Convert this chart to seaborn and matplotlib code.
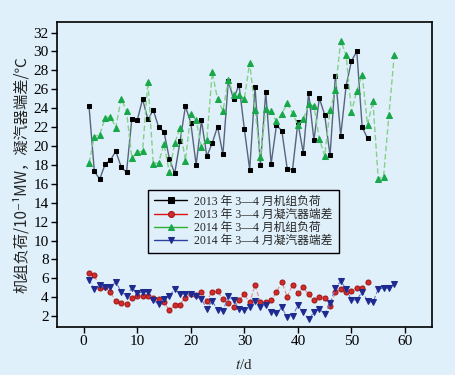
import numpy as np
import pandas as pd
import matplotlib
matplotlib.use("Agg")
import matplotlib.pyplot as plt
import seaborn as sns

# ---- data ----
load2013 = [24.2, 17.3, 16.5, 18.05, 18.5, 19.45, 17.8, 17.2, 22.9, 22.7,
            24.95, 22.8, 23.8, 22.0, 21.5, 18.65, 17.1, 20.5, 24.2, 22.45,
            18.0, 22.7, 18.9, 20.3, 22.05, 19.1, 26.85, 24.95, 26.5, 21.8,
            17.5, 26.2, 18.0, 25.7, 18.1, 22.2, 21.6, 17.6, 17.5, 22.5,
            19.25, 25.6, 20.6, 25.05, 23.3, 19.0, 27.4, 21.1, 26.35, 29.0,
            30.0, 22.0, 20.8]
diff2013 = [6.6, 6.33, 4.96, 5.03, 4.53, 3.55, 3.37, 3.27, 3.9, 4.15,
            4.18, 4.08, 3.9, 3.8, 3.45, 2.63, 3.16, 3.23, 3.97, 4.3,
            4.2, 4.57, 3.62, 4.6, 4.67, 3.76, 3.34, 2.92, 3.69, 4.29,
            3.45, 5.27, 3.45, 3.48, 3.69, 4.53, 5.66, 4.04, 5.3, 4.4,
            5.03, 4.29, 3.66, 4.04, 3.97, 3.02, 4.53, 4.82, 4.53, 4.67,
            4.99, 4.96, 5.66]
load2014 = [18.2, 21.0, 21.2, 22.95, 23.1, 21.95, 25.0, 23.7, 18.7, 19.35,
            19.45, 26.8, 18.1, 18.25, 20.2, 17.2, 20.3, 21.9, 18.45, 23.4,
            22.7, 19.9, 20.65, 27.8, 24.95, 23.7, 27.0, 25.4, 25.4, 25.0,
            28.8, 23.8, 18.8, 23.9, 23.65, 22.6, 23.4, 24.5, 23.5, 22.2,
            22.8, 24.4, 24.2, 20.75, 18.95, 23.8, 25.9, 31.15, 29.6, 23.6,
            25.85, 27.55, 22.25, 24.75, 16.55, 16.75, 23.3, 29.65]
diff2014 = [5.87, 4.82, 5.24, 5.03, 5.1, 5.62, 4.57, 4.15, 4.99, 4.46,
            4.53, 4.57, 3.69, 3.27, 3.83, 4.11, 4.88, 4.29, 4.36, 4.29,
            4.08, 3.8, 2.77, 3.62, 2.63, 2.53, 4.11, 3.69, 2.77, 2.63,
            2.92, 3.62, 2.92, 3.13, 2.39, 2.29, 2.92, 1.86, 1.97, 3.16,
            2.39, 1.68, 2.39, 2.77, 2.21, 3.34, 4.99, 5.7, 4.88, 3.72,
            3.72, 4.6, 3.58, 3.45, 4.88, 4.96, 4.96, 5.45]
labels = ["2013 年 3—4 月机组负荷", "2013 年 3—4 月凝汽器端差",
          "2014 年 3—4 月机组负荷", "2014 年 3—4 月凝汽器端差"]
xticks = [0, 10, 20, 30, 40, 50, 60]
yticks = list(range(2, 33, 2))

days2013 = np.arange(1, len(load2013) + 1)
days2014 = np.arange(1, len(load2014) + 1)

bg = "#dff0fa"
sns.set_theme(style="ticks")
plt.rcParams["font.family"] = ["Liberation Serif", "Noto Sans CJK SC", "DejaVu Sans"]
plt.rcParams["mathtext.fontset"] = "stix"
plt.rcParams["axes.facecolor"] = bg
plt.rcParams["figure.facecolor"] = bg

fig = plt.figure(figsize=(4.55, 3.75), dpi=100)
ax = fig.add_axes([0.125, 0.128, 0.824, 0.813])

sns.lineplot(x=days2013, y=load2013, ax=ax, color="#56647e", lw=1.0,
             marker="s", markersize=3.3, markerfacecolor="black",
             markeredgecolor="black", label=labels[0])
sns.lineplot(x=days2013, y=diff2013, ax=ax, color="#e48a8a", lw=0.8,
             linestyle=(0, (4, 2)), marker="o", markersize=3.6,
             markerfacecolor="#d42a2a", markeredgecolor="#a01818",
             label=labels[1])
sns.lineplot(x=days2014, y=load2014, ax=ax, color="#86d08c", lw=1.0,
             linestyle=(0, (4, 2)), marker="^", markersize=3.8,
             markerfacecolor="#18a84a", markeredgecolor="#18a84a",
             label=labels[2])
sns.lineplot(x=days2014, y=diff2014, ax=ax, color="#6878c8", lw=0.8,
             linestyle=(0, (4, 2)), marker="v", markersize=3.8,
             markerfacecolor="#1e2a90", markeredgecolor="#1e2a90",
             label=labels[3])

ax.set_xlim(-5, 65)
ax.set_ylim(0.85, 33.1)
ax.set_xticks(xticks)
ax.set_yticks(yticks)
ax.tick_params(axis="both", direction="out", length=4, width=1,
               labelsize=11, colors="black", pad=2)
ax.tick_params(top=False, right=False)
for s in ax.spines.values():
    s.set_visible(True)
    s.set_color("black")
    s.set_linewidth(1.2)
ax.set_xlabel("$t$/d", fontsize=11, labelpad=7)
ax.set_ylabel("机组负荷/10⁻¹MW，凝汽器端差/℃", fontsize=11, labelpad=2,
              family=["Noto Sans CJK SC", "DejaVu Sans"])

leg = ax.legend(loc="upper left", bbox_to_anchor=(0.228, 0.47),
                frameon=True, fancybox=False, fontsize=8.5,
                handlelength=2.8, borderpad=0.5, labelspacing=0.1,
                handletextpad=0.6, markerscale=1.2)
leg_colors = ["black", "#e01010", "#30b030", "#3040a0"]
for h, c in zip(leg.legend_handles, leg_colors):
    h.set_linestyle("-")
    h.set_color(c)
    h.set_linewidth(1.0)
leg.get_frame().set_edgecolor("black")
leg.get_frame().set_facecolor(bg)
leg.get_frame().set_alpha(1)
leg.get_frame().set_linewidth(1.0)

fig.savefig("out.png", dpi=100, facecolor=bg)
